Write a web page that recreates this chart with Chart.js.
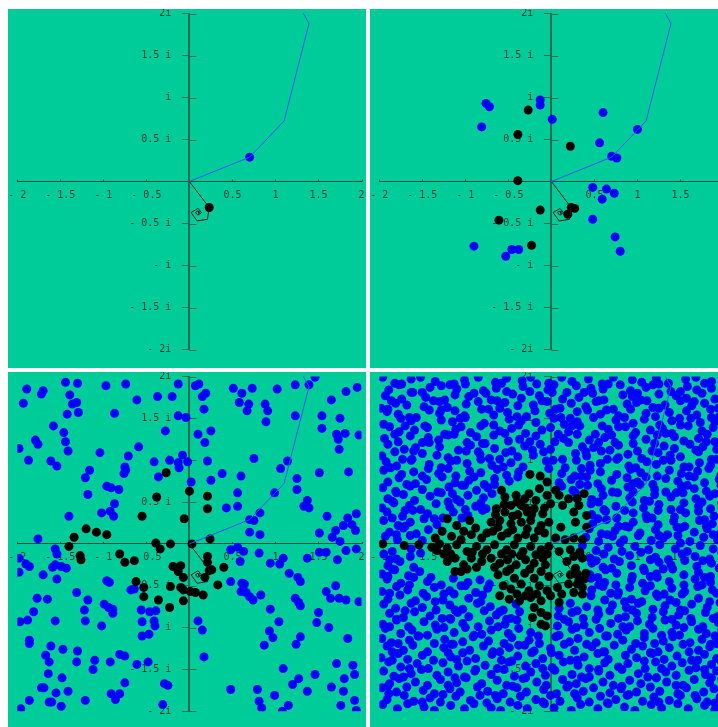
<!DOCTYPE html>
<html><head><meta charset="utf-8">
<script src="https://cdn.jsdelivr.net/npm/chart.js@4.4.1/dist/chart.umd.min.js"></script>
<style>
html,body{margin:0;padding:0;background:#fff;}
body{width:718px;height:727px;position:relative;overflow:hidden;}
.p{position:absolute;background:#00cc99;overflow:hidden;}
.p canvas{position:absolute;left:0;top:0;}
</style></head><body>
<div class="p" style="left:8px;top:9px;width:358px;height:359px"><canvas id="c1" width="358" height="359"></canvas></div>
<div class="p" style="left:370px;top:9px;width:348px;height:359px"><canvas id="c2" width="358" height="359"></canvas></div>
<div class="p" style="left:8px;top:372px;width:358px;height:355px"><canvas id="c3" width="358" height="355"></canvas></div>
<div class="p" style="left:370px;top:372px;width:348px;height:355px"><canvas id="c4" width="358" height="355"></canvas></div>
<script>
// ---- tick labels ----
const xTickValues = [-2, -1.5, -1, -0.5, 0.5, 1, 1.5, 2];
const xTickLabels = ['- 2', '- 1.5', '- 1', '- 0.5', '0.5', '1', '1.5', '2'];
const yTickValues = [2, 1.5, 1, 0.5, -0.5, -1, -1.5, -2];
const yTickLabels = ['2i', '1.5 i', 'i', '0.5 i', '- 0.5 i', '- i', '- 1.5 i', '- 2i'];

// ---- orbits (drawn in every panel) ----
const blueOrbit = [[0,0],[0.70,0.29],[1.10,0.72],[1.39,1.88],[-0.58,5.56]];
const blackOrbit = [[0,0],[0.23,-0.31],[0.21,-0.45],[0.09,-0.47],[0.02,-0.37],[0.10,-0.32],[0.14,-0.37],[0.10,-0.40],[0.07,-0.37],[0.10,-0.35],[0.11,-0.38]];

// ---- panel 1 ----
const panel1Blue = [[0.70,0.29]];
const panel1Black = [[0.23,-0.31]];

// ---- panel 2 ----
const panel2Blue = [[-0.76,0.93],[-0.72,0.89],[-0.81,0.65],[-0.13,0.97],[-0.13,0.91],[0.01,0.74],[0.60,0.82],[1.00,0.62],[0.56,0.46],[0.70,0.30],[0.76,0.28],[0.48,-0.07],[0.64,-0.09],[0.73,-0.14],[0.59,-0.21],[0.48,-0.45],[0.74,-0.66],[0.80,-0.83],[-0.90,-0.77],[-0.46,-0.81],[-0.38,-0.81],[-0.53,-0.89]];
const panel2Black = [[-0.27,0.85],[-0.39,0.56],[0.22,0.42],[-0.39,0.01],[-0.13,-0.34],[-0.61,-0.46],[-0.23,-0.76],[0.23,-0.31],[0.27,-0.32],[0.19,-0.39]];

// ---- panel 3 ----
const panel3Blue = [[-1.89,1.85],[-1.70,1.83],[-1.72,1.79],[-1.93,1.68],[-1.44,1.93],[-1.30,1.92],[-1.39,1.78],[-1.36,1.67],[-1.31,1.69],[-1.42,1.55],[-1.29,1.57],[-1.58,1.41],[-1.46,1.33],[-1.79,1.24],[-1.76,1.19],[-1.44,1.22],[-1.41,1.11],[-1.98,1.14],[-1.87,1.00],[-1.61,0.99],[-1.54,0.93],[-1.21,0.79],[-1.16,0.88],[-1.04,1.09],[-1.18,0.59],[-0.96,0.69],[-0.91,0.67],[-0.82,0.65],[-0.87,0.48],[-1.02,0.37],[-0.92,0.39],[-0.88,0.33],[-1.40,0.33],[-1.76,0.06],[-0.97,1.89],[-0.74,1.91],[-0.87,1.56],[-0.61,1.72],[-0.59,1.16],[-0.71,1.05],[-0.75,0.92],[-0.74,0.88],[-0.76,0.84],[-0.37,1.76],[-0.20,1.76],[-0.28,1.35],[-0.13,1.91],[-0.13,1.53],[-0.04,1.51],[-0.41,0.98],[-0.23,1.00],[-0.13,0.97],[-0.12,0.91],[-0.02,0.98],[-0.08,1.06],[-0.36,0.80],[0.02,0.74],
[0.07,1.89],[0.11,1.91],[0.19,1.80],[0.15,1.76],[0.17,1.61],[0.10,1.31],[0.25,1.35],[0.18,1.21],[0.21,0.99],[0.25,0.76],[0.38,0.84],[0.43,0.43],[0.56,0.61],[0.56,0.45],[0.60,0.81],[0.51,1.86],[0.61,1.80],[0.58,1.69],[0.69,1.67],[0.67,1.59],[0.73,1.86],[0.88,1.67],[0.91,1.59],[0.89,1.46],[1.02,1.85],[0.75,1.02],[0.82,0.37],[0.75,0.28],[0.70,0.29],[0.70,0.14],[0.82,0.11],[0.99,0.61],[1.06,0.90],[1.14,0.99],[1.23,1.90],[1.39,1.90],[1.46,1.99],[1.23,1.53],[1.25,0.78],[1.25,0.65],[1.37,0.52],[1.33,0.45],[1.39,0.43],[1.60,0.33],[1.51,0.13],[1.51,0.85],[1.54,1.53],[1.54,1.38],[1.75,1.50],[1.65,1.72],[1.71,1.31],[1.81,1.32],[1.73,1.25],[1.74,1.13],[1.97,1.30],[1.85,0.86],[1.82,1.82],[1.95,1.87],[1.84,0.31],[1.79,0.22],[1.94,0.36],[1.89,0.23],[1.93,0.16],[1.70,0.16],[1.66,0.08],[1.75,0.03],
[-1.98,-0.17],[-1.90,-0.24],[-1.86,-0.27],[-1.98,-0.34],[-1.70,-0.37],[-1.56,-0.06],[-1.54,-0.12],[-1.56,-0.25],[-1.59,-0.28],[-1.54,-0.42],[-1.49,-0.27],[-1.43,-0.29],[-1.77,-0.65],[-1.65,-0.66],[-1.81,-0.81],[-1.88,-0.91],[-1.97,-0.93],[-1.56,-0.92],[-1.31,-0.58],[-1.18,-0.67],[-1.22,-0.79],[-1.21,-0.92],[-1.02,-0.98],[-0.99,-0.72],[-0.94,-0.76],[-0.89,-0.78],[-0.89,-0.83],[-0.96,-0.44],[-0.93,-0.46],[-0.68,-0.55],[-0.64,-0.54],[-0.56,-0.79],[-0.46,-0.81],[-0.39,-0.80],[-0.55,-0.93],[-0.41,-0.92],[-0.40,-0.98],[-0.55,-1.10],[-0.47,-1.08],[-1.86,-1.15],[-1.86,-1.19],[-1.61,-1.22],[-1.67,-1.33],[-1.63,-1.41],[-1.47,-1.26],[-1.30,-1.28],[-1.31,-1.41],[-1.10,-1.39],[-1.12,-1.50],[-0.92,-1.41],[-0.81,-1.32],[-0.75,-1.34],[-0.61,-1.44],[-0.48,-1.41],[-1.64,-1.55],[-1.48,-1.60],[-1.72,-1.72],[-1.69,-1.72],[-1.55,-1.78],[-1.41,-1.76],[-1.63,-1.89],[-1.60,-1.89],[-1.86,-1.87],[-1.96,-1.97],[-1.49,-1.94],[-1.21,-1.87],[-0.91,-1.79],[-0.81,-1.79],[-0.86,-1.86],[-0.75,-1.66],[-0.29,-1.67],[-0.25,-1.69],[-0.31,-1.92],
[0.10,-0.92],[0.15,-1.03],[0.17,-1.35],[0.48,-0.07],[0.56,-0.04],[0.63,-0.09],[0.59,-0.21],[0.81,-0.11],[0.94,-0.23],[1.05,-0.24],[1.16,-0.35],[1.26,-0.40],[1.29,-0.45],[1.09,-0.17],[1.37,-0.17],[1.51,-0.10],[1.59,-0.10],[1.72,-0.19],[1.82,-0.08],[1.94,-0.06],[0.48,-0.45],[0.61,-0.47],[0.64,-0.48],[0.60,-0.57],[0.66,-0.58],[0.70,-0.63],[0.74,-0.67],[0.83,-0.61],[0.94,-0.78],[1.04,-0.93],[0.87,-1.21],[0.93,-1.04],[0.97,-1.12],[1.23,-0.65],[1.27,-0.70],[1.29,-0.74],[1.50,-0.82],[1.48,-0.94],[1.62,-1.00],[1.70,-0.50],[1.59,-0.57],[1.64,-0.65],[1.74,-0.65],[1.82,-0.67],[1.97,-0.69],[1.29,-1.11],[1.24,-1.20],[1.84,-1.13],[1.71,-1.43],[1.90,-1.45],[1.80,-1.61],[1.92,-1.56],[1.46,-1.56],[1.27,-1.61],[1.20,-1.68],[1.09,-1.49],[1.37,-1.76],[1.65,-1.71],[1.79,-1.76],[1.76,-1.93],[1.92,-1.87],[1.94,-1.99],[0.48,-1.74],[0.79,-1.74],[0.81,-1.88],[0.84,-1.96],[0.99,-1.81],[1.08,-2.00],[1.15,-1.93]];
const panel3Black = [[-0.27,0.85],[-0.38,0.56],[0.00,0.63],[0.21,0.57],[0.21,0.42],[-0.55,0.33],[-0.06,0.30],[-1.20,0.18],[-1.08,0.14],[-0.96,0.11],[-1.34,0.08],[-1.40,-0.03],[-0.39,0.01],[-0.22,0.00],[-0.34,-0.06],[0.03,0.00],[0.24,0.06],[-1.27,-0.14],[-1.26,-0.19],[-0.81,-0.12],[-0.75,-0.22],[-0.64,-0.20],[0.21,-0.15],[0.21,-0.22],[0.26,-0.31],[0.23,-0.32],[0.40,-0.28],[-0.19,-0.27],[-0.10,-0.26],[-0.13,-0.33],[-0.07,-0.40],[0.18,-0.40],[-0.62,-0.45],[-0.53,-0.52],[-0.53,-0.63],[-0.22,-0.51],[-0.10,-0.52],[-0.07,-0.55],[0.01,-0.57],[0.07,-0.58],[0.16,-0.61],[0.33,-0.49],[-0.36,-0.67],[-0.23,-0.76],[-0.07,-0.68]];

// ---- panel 4 (x,y pairs in hundredths) ----
const panel4Blue = [
-196,199,-182,192,-163,197,-152,199,-135,194,-113,191,-101,196,-85,199,-65,193,-52,198,-34,195,-24,199,-3,192,12,199,24,194,43,197,59,191,72,199,94,196,105,193,122,198,136,192,156,197,168,199,186,194,
-189,184,-177,190,-161,181,-141,187,-128,189,-110,185,-100,191,-79,183,-64,186,-52,182,-33,188,-17,191,-4,184,18,181,29,189,46,186,60,185,80,190,92,183,110,187,125,191,139,182,158,188,169,184,186,186,
-193,177,-174,173,-163,181,-146,175,-124,172,-112,178,-96,176,-76,180,-63,171,-45,179,-35,174,-14,177,1,181,13,173,32,175,48,180,61,172,83,178,94,176,111,171,125,179,145,177,157,174,175,180,190,173,
-198,162,-181,168,-168,166,-148,164,-137,171,-121,163,-99,167,-85,170,-73,161,-54,169,-39,165,-21,166,-11,171,10,162,23,168,40,164,52,170,72,161,88,167,99,169,118,163,132,166,150,171,163,165,178,168,194,162,
-191,158,-178,155,-157,151,-142,160,-130,156,-112,159,-101,153,-81,161,-67,154,-51,157,-29,152,-19,159,-2,156,11,151,30,158,42,160,57,155,78,153,92,161,110,156,121,152,137,157,157,159,169,154,186,151,
-195,143,-175,150,-163,147,-147,141,-128,148,-115,146,-100,151,-78,144,-67,142,-49,149,-35,147,-18,145,3,150,15,143,30,146,49,151,59,141,75,148,95,144,108,149,126,142,140,147,162,150,173,145,190,146,
-188,140,-177,134,-159,136,-144,139,-124,131,-111,137,-94,133,-82,141,-60,135,-46,138,-30,132,-11,136,-1,139,20,134,33,141,51,131,66,137,78,140,98,133,115,136,129,138,140,132,159,141,175,135,188,139,
-194,126,-178,122,-164,129,-143,127,-131,124,-113,131,-98,121,-87,128,-67,130,-50,123,-37,125,-18,129,4,122,14,126,30,131,44,124,62,127,74,121,95,129,110,125,123,130,143,128,154,123,171,126,190,122,
-190,119,-171,113,-158,115,-142,121,-130,116,-108,112,-94,118,-77,120,-66,114,-46,111,-31,117,-13,119,-1,113,20,121,36,116,49,115,68,112,78,118,95,120,117,111,131,117,143,114,161,119,176,116,192,113,
-197,105,-182,110,-162,101,-150,108,-133,106,-120,103,-99,111,-83,107,-72,102,-53,109,-39,104,-21,106,-9,110,13,101,28,108,41,105,58,111,78,103,89,107,105,102,124,109,138,106,150,104,171,110,186,101,
-192,98,-180,93,-163,100,-142,95,-128,91,-117,99,-98,96,-82,101,-69,94,-47,97,-33,92,-6,99,16,91,29,100,45,94,57,96,76,101,90,93,111,98,122,95,139,100,154,92,172,97,185,94,199,99,
-195,88,-174,83,-160,86,-143,90,-131,84,-111,81,-95,87,-82,85,-63,89,-52,82,-38,86,-3,90,12,84,27,81,45,88,57,86,76,83,92,89,104,85,123,81,137,88,151,84,170,87,183,90,197,82,
-190,74,-177,79,-158,72,-145,77,-127,80,-112,73,-96,76,-78,71,-66,78,-49,75,-39,80,9,73,23,77,41,80,54,72,70,76,88,79,100,74,118,71,133,78,147,75,166,80,178,73,195,77,
-196,67,-181,63,-164,69,-150,65,-132,62,-119,68,-104,70,-87,64,-74,67,-66,71,12,69,25,64,42,70,58,66,71,62,89,68,103,71,120,65,133,62,151,69,166,66,180,63,197,70,
-190,54,-172,59,-159,52,-141,57,-128,61,-110,53,-97,58,-79,55,-69,60,47,53,60,58,77,61,91,55,108,52,120,59,139,56,153,61,168,54,184,57,199,52,
-197,43,-183,49,-165,46,-152,41,-134,48,-118,44,-106,50,-88,45,-76,42,46,48,61,41,75,45,94,50,107,43,125,47,139,41,154,49,171,45,185,42,198,49,
-191,38,-173,33,-161,40,-144,36,-126,31,-114,38,-97,34,-80,40,47,35,63,39,76,31,95,37,110,34,124,40,143,32,156,37,171,39,189,33,
-195,28,-178,22,-164,26,-148,30,-133,23,48,24,64,29,78,21,95,26,111,30,124,23,142,27,155,21,172,28,187,24,199,30,
-188,14,-172,19,-157,12,-143,17,44,18,58,12,74,16,90,20,103,13,121,17,135,11,150,19,166,14,181,18,196,12,
-193,9,-179,5,-164,10,-150,4,40,8,55,3,71,9,84,5,101,10,116,4,130,7,147,10,161,3,177,8,193,5,
-185,-9,-163,-6,36,-2,52,-8,66,-4,82,-9,97,-3,113,-7,126,-1,144,-6,158,-9,173,-2,188,-6,
-195,-12,-180,-18,-164,-15,-152,-11,45,-17,61,-12,73,-18,91,-14,104,-10,121,-16,136,-19,152,-12,167,-15,184,-18,198,-11,
-190,-26,-176,-21,-160,-28,47,-23,60,-28,79,-21,93,-26,107,-29,125,-22,139,-25,155,-20,169,-27,186,-23,
-197,-36,-182,-31,-166,-38,-153,-33,45,-37,63,-31,76,-35,94,-39,108,-32,122,-36,141,-30,154,-37,171,-34,185,-39,199,-32,
-191,-42,-175,-47,-160,-40,-144,-45,-128,-49,-114,-41,-97,-46,-83,-43,-72,-48,46,-41,62,-46,75,-49,93,-43,106,-47,123,-40,137,-45,154,-49,167,-42,185,-46,199,-41,
-197,-57,-180,-51,-167,-55,-149,-59,-136,-52,-118,-56,-105,-50,-88,-58,-74,-53,47,-55,60,-51,78,-58,91,-52,109,-56,122,-60,140,-53,155,-57,170,-51,187,-55,
-190,-66,-176,-61,-158,-68,-145,-63,-126,-67,-113,-60,-96,-65,-82,-69,46,-62,62,-67,77,-61,93,-66,105,-69,124,-63,138,-67,152,-60,171,-65,184,-69,199,-62,
-195,-72,-181,-77,-163,-71,-150,-76,-134,-79,-118,-73,-103,-78,-86,-71,-71,-75,-56,-79,-41,-72,9,-77,22,-71,41,-75,54,-79,71,-73,87,-76,101,-71,118,-78,132,-74,150,-79,163,-72,181,-76,196,-70,
-188,-83,-172,-88,-159,-81,-141,-86,-127,-89,-109,-82,-96,-87,-78,-80,-64,-85,-47,-89,-37,-81,8,-86,24,-82,37,-89,55,-84,68,-80,86,-87,99,-83,117,-88,130,-81,148,-85,162,-89,179,-82,193,-87,
-196,-96,-180,-91,-166,-99,-148,-93,-135,-97,-117,-90,-103,-95,-85,-99,-72,-92,-54,-96,-40,-91,7,-98,20,-93,38,-97,52,-90,69,-95,83,-99,100,-92,114,-96,132,-91,145,-97,163,-93,176,-99,194,-94,
-193,-101,-175,-107,-162,-103,-144,-109,-133,-102,-113,-106,-100,-100,-81,-108,-70,-103,-50,-107,-38,-101,-24,-106,9,-109,24,-102,44,-106,56,-101,77,-108,87,-103,108,-107,118,-101,140,-106,149,-109,171,-102,180,-107,198,-103,
-197,-113,-186,-118,-165,-115,-154,-110,-136,-119,-124,-114,-103,-117,-91,-111,-73,-116,-55,-119,-46,-112,-26,-115,-14,-119,5,-111,21,-117,31,-113,52,-118,63,-110,83,-115,98,-119,108,-112,130,-116,141,-111,161,-118,175,-114,192,-119,
-191,-122,-172,-127,-161,-121,-144,-129,-125,-124,-114,-120,-95,-127,-79,-122,-68,-129,-49,-124,-31,-121,-20,-128,-1,-125,15,-120,27,-127,47,-123,60,-129,73,-121,93,-126,106,-122,124,-129,137,-124,153,-120,171,-127,184,-123,199,-128,
-198,-136,-178,-131,-167,-138,-150,-133,-137,-139,-117,-135,-103,-130,-88,-137,-69,-132,-58,-139,-39,-134,-23,-130,-10,-137,9,-133,22,-139,38,-135,54,-131,66,-138,86,-133,99,-136,117,-131,131,-138,146,-134,163,-139,178,-132,192,-137,
-189,-141,-175,-147,-156,-143,-143,-149,-126,-142,-108,-146,-98,-140,-77,-145,-63,-149,-49,-141,-30,-146,-18,-143,1,-148,14,-141,31,-145,44,-149,62,-142,78,-147,89,-143,109,-149,121,-141,140,-146,152,-142,168,-148,186,-144,197,-140,
-195,-152,-183,-158,-163,-155,-151,-150,-133,-157,-120,-153,-101,-159,-89,-152,-70,-156,-55,-150,-43,-158,-24,-153,-7,-157,4,-151,24,-156,35,-159,55,-152,68,-157,82,-150,101,-155,112,-159,133,-153,145,-157,160,-151,179,-156,192,-152,
-188,-167,-177,-161,-158,-165,-144,-169,-129,-162,-110,-166,-99,-160,-81,-167,-63,-163,-52,-169,-33,-161,-17,-165,-6,-169,13,-162,29,-167,40,-161,60,-165,72,-169,91,-163,104,-167,122,-160,134,-165,153,-169,166,-162,184,-166,198,-161,
-197,-172,-180,-177,-168,-171,-149,-175,-136,-179,-118,-173,-106,-177,-86,-171,-74,-176,-56,-179,-40,-172,-29,-177,-9,-174,6,-179,18,-171,37,-176,49,-172,68,-178,81,-173,99,-177,115,-171,126,-176,147,-179,157,-172,177,-177,189,-173,
-191,-186,-171,-181,-160,-188,-141,-184,-129,-189,-111,-182,-94,-187,-83,-181,-63,-185,-48,-189,-36,-182,-18,-186,-1,-181,10,-188,30,-184,44,-189,57,-182,75,-186,88,-181,106,-188,119,-183,137,-187,150,-181,169,-185,181,-189,196,-183,
-196,-192,-179,-197,-167,-191,-148,-195,-136,-199,-117,-193,-101,-197,-90,-191,-70,-196,-59,-199,-39,-193,-28,-197,-8,-191,3,-196,23,-199,34,-192,54,-197,66,-191,85,-195,97,-199,116,-192,128,-196,147,-191,159,-197,178,-193,190,-198,
-174,191,-118,190,-58,192,3,190,66,191,118,190,178,192,
-186,171,-130,170,-70,172,-5,170,55,171,104,172,166,170,
-165,151,-106,150,-40,152,22,150,85,151,149,150,195,152,
-182,131,-120,130,-54,132,8,131,70,130,133,132,181,131,
-160,111,-85,110,-22,112,40,110,100,111,168,112,
-187,91,-120,90,-56,92,35,90,98,91,160,92,
-168,71,-101,70,33,71,95,72,158,70,
-185,51,-120,50,-82,49,55,50,114,51,175,50,
-185,31,-136,30,-104,31,54,30,117,31,178,29,
-180,11,65,11,125,10,188,11,
-188,-19,52,-20,115,-19,176,-20,
-190,-39,-140,-40,54,-40,115,-39,178,-40,
-188,-59,-125,-60,-80,-61,69,-59,131,-60,192,-59,
-170,-80,-112,-79,-60,-81,30,-80,94,-79,155,-80,
-188,-99,-125,-100,-62,-99,29,-100,91,-99,154,-100,
-178,-119,-116,-120,-38,-121,41,-120,120,-119,185,-120,
-185,-139,-110,-138,-46,-140,30,-139,108,-140,170,-139,
-172,-159,-112,-160,-30,-160,44,-159,122,-160,186,-160,
-189,-179,-126,-180,-65,-181,27,-179,90,-180,167,-181,
-150,181,-90,180,-25,182,38,181,100,180,150,182,
-190,161,-128,160,-60,162,5,161,64,160,125,162,185,161,
-170,141,-105,140,-38,142,24,141,86,140,150,142,
-150,121,-80,120,-25,122,55,121,120,120,180,122,
-173,101,-110,100,-60,101,2,100,65,101,130,100,192,101,
-150,81,-90,80,35,81,110,80,160,81,
-180,61,-115,60,28,61,95,62,145,61,190,60,
-170,40,-100,41,85,40,150,41,
-170,21,86,21,146,20,180,21,
80,1,150,1,
-185,-30,70,-29,130,-30,195,-29,
-165,-49,-100,-50,55,-49,115,-50,175,-49,
-135,-69,85,-69,145,-70,
-180,-90,-118,-89,-52,-90,15,-90,78,-89,140,-90,188,-89,
-155,-110,-90,-109,-15,-110,65,-110,128,-109,190,-110,
-185,-129,-120,-130,-60,-129,0,-130,62,-129,115,-130,160,-129,
-165,-149,-88,-150,-10,-149,55,-150,128,-149,178,-150,
-190,-170,-120,-169,-45,-170,20,-169,82,-170,145,-169,
-150,-189,-75,-190,-10,-189,65,-190,125,-189,190,-190
];
const panel4Black = [
-25,83,-13,81,-5,74,-14,66,
-58,64,-54,56,-41,58,-31,54,-26,60,-5,58,5,64,9,58,20,54,30,54,38,60,-1,48,13,46,
-64,42,-54,38,-47,46,-35,46,-28,38,-20,42,-10,36,26,38,32,46,41,34,-39,35,
-121,30,-110,22,-95,28,-70,26,-60,28,-47,24,-35,26,-24,28,-12,22,-3,26,11,20,28,26,41,20,
-135,7,-127,15,-116,9,-102,15,-93,11,-81,7,-68,15,-58,9,-51,13,-39,7,-30,11,-20,7,-8,13,5,7,16,5,26,7,36,5,
-196,0,-171,-2,-154,-1,-139,-4,
-121,-5,-110,-1,-98,-9,-87,-3,-75,-7,-66,-1,-52,-7,-43,-1,-33,-9,-24,-3,-12,-7,-3,-3,9,-9,22,-7,
-121,-21,-112,-17,-102,-25,-93,-17,-81,-21,-70,-17,-60,-23,-51,-19,-41,-25,-30,-19,-20,-23,-10,-17,18,-21,28,-29,36,-17,
-112,-33,-62,-37,-52,-33,-43,-41,-31,-35,-20,-41,-12,-33,-3,-39,22,-37,32,-43,40,-35,
-56,-50,-47,-54,-35,-48,-26,-56,-14,-50,-5,-56,7,-52,20,-48,26,-58,36,-52,
-60,-62,-49,-66,-37,-68,-24,-64,-12,-68,-1,-62,9,-70,36,-60,
-20,-76,-12,-82,-22,-88,-5,-86,-12,-96,-7,-98,
-105,5,-88,19,-75,13,-62,20,-45,17,-28,18,-15,16,-117,-12,-92,-10,-80,-12,-58,-12,-46,-12,-36,-14,-18,-13,-5,-12,
-66,-28,-48,-30,-25,-30,-7,-25,-40,50,-18,52,-30,43,-8,43,-55,47,-65,35,-45,33,-23,35,
-40,-60,-30,-62,-17,-60,12,-60,30,-48,38,-42,30,-36,26,-15,33,-10,-130,0,-125,-12,-133,-8,-105,-33,-98,-30,-87,-28
];

// ---- helpers ----
const toPts = a => a.map(p => ({x: p[0], y: p[1]}));
const fromHundredths = a => { const out = []; for (let i = 0; i < a.length; i += 2) out.push({x: a[i] / 100, y: a[i + 1] / 100}); return out; };

const LABEL = '#183a2e';
const YAXIS = '#2a6b53';
const XAXIS = '#1d4a3a';
const FONT = {family: '"DejaVu Sans Mono", monospace', size: 10};
const zeroPad = s => { s.paddingLeft = 0; s.paddingRight = 0; s.paddingTop = 0; s.paddingBottom = 0; };

const extraTicks = {
  id: 'extraTicks',
  beforeDatasetsDraw(chart) {
    const {ctx, scales: {x, y}} = chart;
    const x0 = x.getPixelForValue(0);
    const y0 = y.getPixelForValue(0);
    ctx.save();
    ctx.strokeStyle = YAXIS; ctx.lineWidth = 1;
    yTickValues.forEach(v => {
      const py = Math.round(y.getPixelForValue(v)) + 0.5;
      ctx.beginPath(); ctx.moveTo(x0, py); ctx.lineTo(x0 + 7, py); ctx.stroke();
    });
    ctx.strokeStyle = XAXIS;
    xTickValues.forEach(v => {
      const px = Math.round(x.getPixelForValue(v)) + 0.5;
      ctx.beginPath(); ctx.moveTo(px, y0); ctx.lineTo(px, y0 - 2); ctx.stroke();
    });
    ctx.restore();
  }
};

function makeChart(id, blue, black, padding) {
  new Chart(document.getElementById(id), {
    type: 'scatter',
    data: {
      datasets: [
        {label: 'blue orbit', data: toPts(blueOrbit), showLine: true, borderColor: '#2a55f2', borderWidth: 1, pointRadius: 0, pointHoverRadius: 0, fill: false, tension: 0},
        {label: 'black orbit', data: toPts(blackOrbit), showLine: true, borderColor: '#1a1a1a', borderWidth: 1, pointRadius: 0, pointHoverRadius: 0, fill: false, tension: 0},
        {label: 'bounded', data: black, pointRadius: 4.5, pointHoverRadius: 4.5, pointBorderWidth: 0, backgroundColor: '#000000', borderColor: '#000000'},
        {label: 'escaping', data: blue, pointRadius: 4.5, pointHoverRadius: 4.5, pointBorderWidth: 0, backgroundColor: '#0000ff', borderColor: '#0000ff'}
      ]
    },
    options: {
      responsive: false,
      animation: false,
      events: [],
      layout: {padding: padding},
      plugins: {legend: {display: false}, tooltip: {enabled: false}},
      scales: {
        x: {
          type: 'linear', min: -2, max: 2, position: {y: 0},
          afterBuildTicks: s => { s.ticks = xTickValues.map(v => ({value: v})); },
          afterFit: zeroPad,
          grid: {drawOnChartArea: false, drawTicks: false},
          border: {display: true, color: XAXIS, width: 1},
          ticks: {padding: 8, autoSkip: false, maxRotation: 0, color: LABEL, font: FONT, callback: (v, i) => xTickLabels[i]}
        },
        y: {
          type: 'linear', min: -2, max: 2, position: {x: 0},
          afterBuildTicks: s => { s.ticks = yTickValues.map(v => ({value: v})); },
          afterFit: zeroPad,
          grid: {drawOnChartArea: false, drawTicks: true, tickLength: 6, color: YAXIS, tickWidth: 1},
          border: {display: true, color: YAXIS, width: 2},
          ticks: {autoSkip: false, color: LABEL, font: FONT, callback: (v, i) => yTickLabels[i] + '   '}
        }
      }
    },
    plugins: [extraTicks]
  });
}

const PAD_TOP = {left: 9.3, right: 0.7, top: 0.5, bottom: 18.5};
const PAD_BOTTOM = {left: 9.3, right: 0.7, top: 1, bottom: 15.7};
makeChart('c1', toPts(panel1Blue), toPts(panel1Black), PAD_TOP);
makeChart('c2', toPts(panel2Blue), toPts(panel2Black), PAD_TOP);
makeChart('c3', toPts(panel3Blue), toPts(panel3Black), PAD_BOTTOM);
makeChart('c4', fromHundredths(panel4Blue), fromHundredths(panel4Black), PAD_BOTTOM);
</script>
</body></html>
